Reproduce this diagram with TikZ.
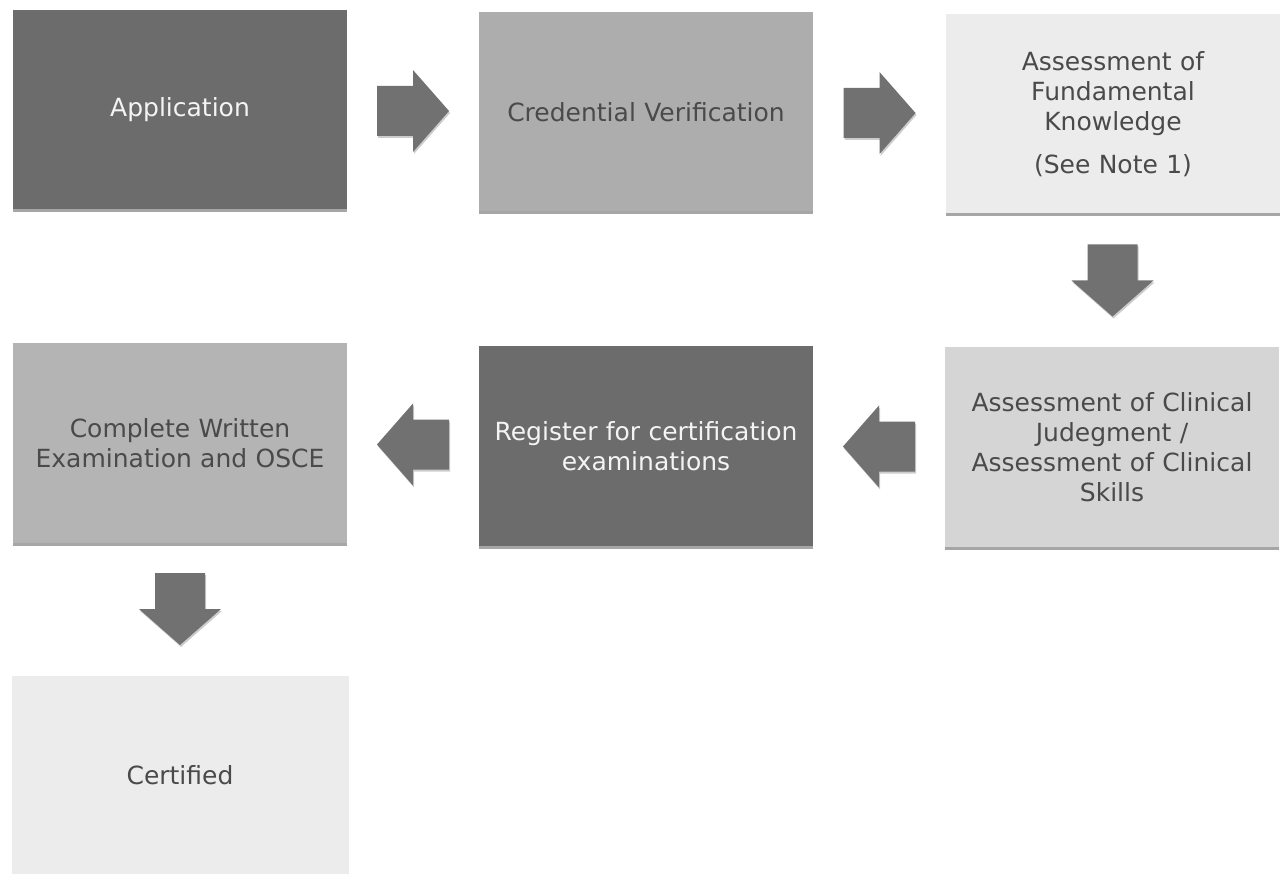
\documentclass[tikz,border=0pt]{standalone}
\usepackage{fontspec}
\setmainfont{DejaVu Sans}
\usetikzlibrary{shadows,calc}
\definecolor{darkbox}{HTML}{6C6C6C}
\definecolor{midbox}{HTML}{ADADAD}
\definecolor{lightbox}{HTML}{D5D5D5}
\definecolor{palebox}{HTML}{ECECEC}
\definecolor{arrowgray}{HTML}{717171}
\definecolor{darktext}{HTML}{4A4A4A}
\definecolor{lighttext}{HTML}{F4F4F4}
\tikzset{
  x=1pt, y=-1pt,
  stepbox/.style={rectangle, inner sep=0pt, minimum width=334pt, minimum height=199pt,
    align=center, text width=320pt, font=\fontsize{25}{30}\selectfont,
    drop shadow={shadow xshift=0pt, shadow yshift=-3pt, opacity=0.35, fill=black}},
  darkstep/.style={stepbox, fill=darkbox, text=lighttext},
  midstep/.style={stepbox, fill=midbox, text=darktext},
  lightstep/.style={stepbox, fill=lightbox, text=darktext},
  palestep/.style={stepbox, fill=palebox, text=darktext},
  blockarrow/.pic={
    \fill[arrowgray, drop shadow={shadow xshift=1pt, shadow yshift=-2pt, opacity=0.2, fill=black}]
      (-36,-25) -- (0,-25) -- (0,-41) -- (36,0) -- (0,41) -- (0,25) -- (-36,25) -- cycle;
  }
}
\begin{document}
\begin{tikzpicture}
\useasboundingbox[fill=white] (0,0) rectangle (1285,874);

\node[darkstep] (app) at (180,110) {Application};
\node[midstep] (cred) at (646,112) {Credential Verification};
\node[palestep] (fund) at (1113,114) {Assessment of\\Fundamental\\Knowledge\\[13pt](See Note 1)};
\node[lightstep] (clin) at (1112,447) {Assessment of Clinical\\Judegment /\\Assessment of Clinical\\Skills};
\node[darkstep] (reg) at (646,446) {Register for certification\\examinations};
\node[midstep, fill=midbox!92!white] (comp) at (180,443) {Complete Written\\Examination and OSCE};
\node[palestep, minimum width=337pt] (cert) at (180,775) {Certified};

\path ($(app.east)!0.5!(cred.west)$) pic {blockarrow};
\path ($(cred.east)!0.5!(fund.west)$) pic {blockarrow};
\path ($(fund.south)!0.5!(clin.north)$) pic[rotate=-90] {blockarrow};
\path ($(clin.west)!0.5!(reg.east)$) pic[rotate=180] {blockarrow};
\path ($(reg.west)!0.5!(comp.east)$) pic[rotate=180] {blockarrow};
\path ($(comp.south)!0.5!(cert.north)$) pic[rotate=-90] {blockarrow};
\end{tikzpicture}
\end{document}
